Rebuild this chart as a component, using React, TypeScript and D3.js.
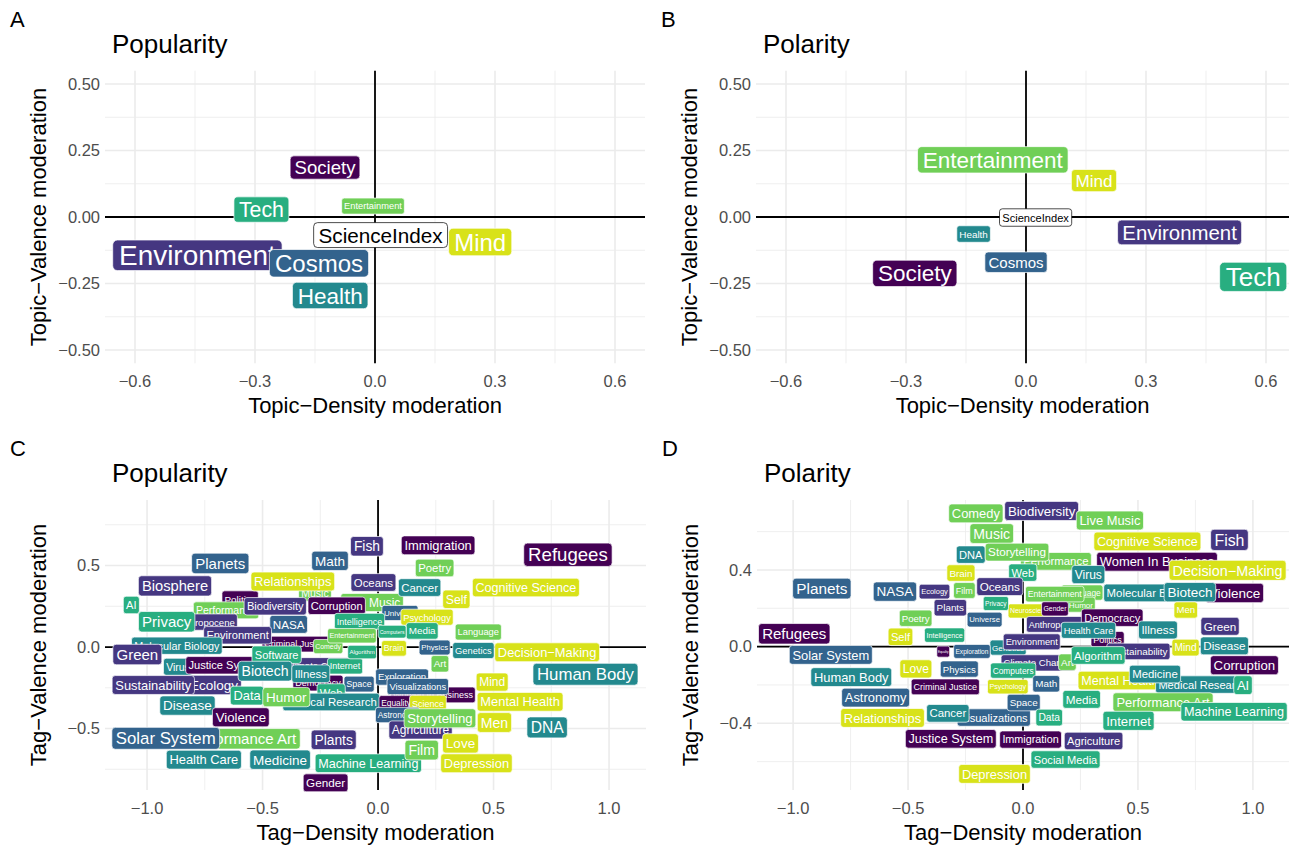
import React from 'react';
import * as d3 from 'd3';

// topics and the tags that belong to each of them
const topics = ['Society', 'Environment', 'Cosmos', 'Health', 'Tech', 'Entertainment', 'Mind'];
const societyTags = ['Politics', 'Gender', 'Refugees', 'Immigration', 'Corruption', 'Violence', 'Justice System', 'Criminal Justice', 'Democracy', 'Women In Business', 'Equality'];
const environmentTags = ['Biosphere', 'Biodiversity', 'Fish', 'Oceans', 'Green', 'Sustainability', 'Ecology', 'Environment', 'Climate Change', 'Plants', 'Agriculture', 'Anthropocene'];
const cosmosTags = ['Planets', 'Solar System', 'Astronomy', 'NASA', 'Universe', 'Space', 'Exploration', 'Physics', 'Math', 'Visualizations'];
const healthTags = ['Human Body', 'DNA', 'Medicine', 'Disease', 'Illness', 'Health Care', 'Medical Research', 'Molecular Biology', 'Virus', 'Biotech', 'Genetics', 'Cancer'];
const techTags = ['AI', 'Machine Learning', 'Algorithm', 'Internet', 'Social Media', 'Software', 'Data', 'Web', 'Computers', 'Privacy', 'Intelligence', 'Media'];
const entertainmentTags = ['Comedy', 'Music', 'Live Music', 'Storytelling', 'Film', 'Poetry', 'Performance', 'Performance Art', 'Humor', 'Art', 'Language', 'Entertainment'];
const mindTags = ['Cognitive Science', 'Decision−Making', 'Self', 'Love', 'Relationships', 'Depression', 'Mental Health', 'Men', 'Mind', 'Psychology', 'Brain', 'Neuroscience', 'Science'];

// [label, x, y, magnitude]
type Row = [string, number, number, number];

const popularityTopics: Row[] = [
  ['Society', -0.125, 0.186, 0.62],
  ['Tech', -0.284, 0.028, 0.71],
  ['Entertainment', -0.005, 0.041, 0.31],
  ['ScienceIndex', 0.014, -0.068, 0.69],
  ['Mind', 0.263, -0.094, 0.8],
  ['Environment', -0.444, -0.144, 0.93],
  ['Cosmos', -0.14, -0.174, 0.8],
  ['Health', -0.112, -0.295, 0.75],
];

const polarityTopics: Row[] = [
  ['Entertainment', -0.083, 0.215, 0.75],
  ['Mind', 0.17, 0.137, 0.57],
  ['ScienceIndex', 0.024, -0.002, 0.37],
  ['Health', -0.131, -0.064, 0.33],
  ['Environment', 0.384, -0.058, 0.68],
  ['Cosmos', -0.025, -0.17, 0.5],
  ['Society', -0.278, -0.212, 0.75],
  ['Tech', 0.568, -0.225, 0.87],
];

const popularityTags: Row[] = [
  ['Politics', -0.597, 0.294, 0.33],
  ['Music', -0.273, 0.331, 0.35],
  ['Performance', -0.658, 0.225, 0.35],
  ['Anthropocene', -0.749, 0.153, 0.32],
  ['Criminal Justice', -0.355, 0.018, 0.3],
  ['Virus', -0.866, -0.121, 0.35],
  ['Justice System', -0.659, -0.112, 0.37],
  ['Ecology', -0.71, -0.233, 0.45],
  ['Data', -0.567, -0.298, 0.43],
  ['Performance Art', -0.589, -0.563, 0.5],
  ['Live Music', -0.026, 0.273, 0.4],
  ['Universe', 0.095, 0.209, 0.27],
  ['Comedy', -0.216, 0.003, 0.23],
  ['Climate Change', -0.251, -0.115, 0.32],
  ['Internet', -0.143, -0.117, 0.3],
  ['Democracy', -0.26, -0.221, 0.3],
  ['Space', -0.082, -0.227, 0.3],
  ['Web', -0.203, -0.279, 0.37],
  ['Medical Research', -0.203, -0.337, 0.38],
  ['Exploration', 0.104, -0.184, 0.32],
  ['Women In Business', 0.238, -0.294, 0.3],
  ['Equality', 0.078, -0.345, 0.28],
  ['Science', 0.216, -0.345, 0.3],
  ['Astronomy', 0.085, -0.417, 0.28],
  ['Agriculture', 0.184, -0.509, 0.4],
  ['Algorithm', -0.069, -0.031, 0.2],
  ['Planets', -0.683, 0.513, 0.5],
  ['Math', -0.208, 0.529, 0.45],
  ['Fish', -0.048, 0.618, 0.46],
  ['Biosphere', -0.879, 0.375, 0.49],
  ['Relationships', -0.369, 0.402, 0.43],
  ['AI', -1.068, 0.258, 0.37],
  ['Biodiversity', -0.445, 0.25, 0.37],
  ['Corruption', -0.179, 0.253, 0.37],
  ['Privacy', -0.915, 0.155, 0.5],
  ['NASA', -0.387, 0.139, 0.39],
  ['Environment', -0.608, 0.072, 0.37],
  ['Molecular Biology', -0.871, 0.008, 0.36],
  ['Green', -1.042, -0.046, 0.5],
  ['Software', -0.439, -0.047, 0.37],
  ['Biotech', -0.489, -0.148, 0.47],
  ['Illness', -0.291, -0.164, 0.38],
  ['Sustainability', -0.973, -0.233, 0.43],
  ['Humor', -0.397, -0.307, 0.45],
  ['Disease', -0.825, -0.359, 0.45],
  ['Violence', -0.594, -0.431, 0.44],
  ['Solar System', -0.919, -0.56, 0.56],
  ['Plants', -0.192, -0.569, 0.46],
  ['Health Care', -0.754, -0.691, 0.43],
  ['Medicine', -0.424, -0.691, 0.45],
  ['Machine Learning', -0.042, -0.713, 0.42],
  ['Gender', -0.227, -0.833, 0.39],
  ['Brain', 0.069, -0.008, 0.29],
  ['Physics', 0.245, -0.003, 0.26],
  ['Genetics', 0.413, -0.021, 0.31],
  ['Decision−Making', 0.732, -0.032, 0.43],
  ['Art', 0.268, -0.103, 0.33],
  ['Human Body', 0.898, -0.167, 0.56],
  ['Mind', 0.494, -0.215, 0.4],
  ['Visualizations', 0.172, -0.242, 0.31],
  ['Mental Health', 0.615, -0.336, 0.43],
  ['Storytelling', 0.268, -0.437, 0.44],
  ['Men', 0.504, -0.463, 0.47],
  ['DNA', 0.732, -0.493, 0.52],
  ['Love', 0.357, -0.591, 0.45],
  ['Film', 0.189, -0.632, 0.47],
  ['Depression', 0.426, -0.713, 0.43],
  ['Immigration', 0.26, 0.624, 0.43],
  ['Refugees', 0.822, 0.566, 0.62],
  ['Poetry', 0.245, 0.485, 0.38],
  ['Oceans', -0.02, 0.396, 0.38],
  ['Cancer', 0.18, 0.365, 0.38],
  ['Cognitive Science', 0.64, 0.365, 0.42],
  ['Self', 0.339, 0.293, 0.41],
  ['Psychology', 0.212, 0.183, 0.31],
  ['Intelligence', -0.08, 0.158, 0.3],
  ['Language', 0.434, 0.092, 0.31],
  ['Media', 0.191, 0.099, 0.33],
  ['Computers', 0.061, 0.094, 0.17],
  ['Entertainment', -0.113, 0.069, 0.24],
];

const polarityTags: Row[] = [
  ['Performance', 0.143, 0.445, 0.38],
  ['Women In Business', 0.583, 0.443, 0.43],
  ['Language', 0.257, 0.282, 0.28],
  ['Molecular Biology', 0.559, 0.28, 0.38],
  ['Violence', 0.92, 0.28, 0.45],
  ['Neuroscience', 0.035, 0.186, 0.23],
  ['Humor', 0.252, 0.219, 0.27],
  ['Anthropocene', 0.147, 0.116, 0.3],
  ['Politics', 0.368, 0.038, 0.3],
  ['Sustainability', 0.502, -0.025, 0.33],
  ['Genetics', -0.065, -0.005, 0.27],
  ['Climate Change', 0.065, -0.085, 0.32],
  ['Computers', -0.043, -0.125, 0.28],
  ['Mental Health', 0.422, -0.177, 0.42],
  ['Medical Research', 0.782, -0.198, 0.37],
  ['Visualizations', -0.127, -0.37, 0.37],
  ['Performance Art', 0.609, -0.29, 0.43],
  ['Comedy', -0.205, 0.695, 0.43],
  ['Biodiversity', 0.081, 0.708, 0.44],
  ['Music', -0.136, 0.59, 0.47],
  ['Live Music', 0.378, 0.658, 0.43],
  ['DNA', -0.227, 0.48, 0.37],
  ['Storytelling', -0.026, 0.493, 0.39],
  ['Cognitive Science', 0.541, 0.549, 0.42],
  ['Fish', 0.898, 0.557, 0.53],
  ['Decision−Making', 0.89, 0.398, 0.48],
  ['Brain', -0.27, 0.384, 0.33],
  ['Web', -0.001, 0.386, 0.37],
  ['Virus', 0.284, 0.376, 0.4],
  ['Planets', -0.875, 0.303, 0.51],
  ['NASA', -0.557, 0.287, 0.45],
  ['Ecology', -0.385, 0.287, 0.25],
  ['Film', -0.255, 0.293, 0.3],
  ['Oceans', -0.101, 0.313, 0.39],
  ['Entertainment', 0.138, 0.274, 0.29],
  ['Biotech', 0.726, 0.284, 0.45],
  ['Privacy', -0.118, 0.225, 0.22],
  ['Plants', -0.316, 0.203, 0.33],
  ['Gender', 0.139, 0.197, 0.23],
  ['Men', 0.708, 0.191, 0.32],
  ['Poetry', -0.467, 0.148, 0.32],
  ['Universe', -0.167, 0.141, 0.26],
  ['Democracy', 0.388, 0.151, 0.37],
  ['Health Care', 0.285, 0.085, 0.31],
  ['Illness', 0.587, 0.087, 0.39],
  ['Green', 0.857, 0.106, 0.39],
  ['Self', -0.533, 0.051, 0.37],
  ['Intelligence', -0.341, 0.06, 0.24],
  ['Environment', 0.038, 0.025, 0.31],
  ['Mind', 0.707, -0.005, 0.34],
  ['Disease', 0.876, 0.004, 0.39],
  ['Exploration', -0.222, -0.025, 0.22],
  ['Equality', -0.347, -0.026, 0.1],
  ['Art', 0.193, -0.081, 0.33],
  ['Algorithm', 0.327, -0.046, 0.38],
  ['Corruption', 0.963, -0.097, 0.44],
  ['Physics', -0.277, -0.117, 0.32],
  ['Love', -0.466, -0.116, 0.4],
  ['Solar System', -0.836, -0.043, 0.43],
  ['Refugees', -0.995, 0.067, 0.5],
  ['Human Body', -0.747, -0.159, 0.43],
  ['Criminal Justice', -0.338, -0.21, 0.3],
  ['Psychology', -0.066, -0.209, 0.24],
  ['Math', 0.101, -0.194, 0.33],
  ['Medicine', 0.574, -0.143, 0.38],
  ['AI', 0.957, -0.201, 0.43],
  ['Astronomy', -0.641, -0.266, 0.43],
  ['Media', 0.255, -0.275, 0.39],
  ['Space', 0.003, -0.292, 0.33],
  ['Machine Learning', 0.918, -0.34, 0.42],
  ['Relationships', -0.611, -0.372, 0.43],
  ['Cancer', -0.327, -0.348, 0.38],
  ['Data', 0.114, -0.37, 0.34],
  ['Internet', 0.459, -0.387, 0.44],
  ['Justice System', -0.314, -0.481, 0.42],
  ['Immigration', 0.033, -0.485, 0.36],
  ['Agriculture', 0.307, -0.492, 0.37],
  ['Social Media', 0.185, -0.589, 0.37],
  ['Depression', -0.124, -0.664, 0.43],
];

const topicTicks = [-0.6, -0.3, 0, 0.3, 0.6];
const topicYTicks = [-0.5, -0.25, 0, 0.25, 0.5];
const tagTicks = [-1, -0.5, 0, 0.5, 1];
const popTagYTicks = [-0.5, 0, 0.5];
const polTagYTicks = [-0.4, 0, 0.4];

const FONT = '"Liberation Sans", Arial, Helvetica, sans-serif';

const topicOf = new Map<string, string>();
[societyTags, environmentTags, cosmosTags, healthTags, techTags, entertainmentTags, mindTags]
  .forEach((tags, i) => tags.forEach(t => topicOf.set(t, topics[i])));

const colour = d3.scaleOrdinal<string, string>()
  .domain(topics)
  .range(topics.map((_, i) => d3.interpolateViridis((i / 6) * 0.94)));

const fontScale = d3.scaleLinear().domain([0, 1]).range([0, 30]);

const ctx = document.createElement('canvas').getContext('2d')!;
const textWidth = (s: string, f: number) => {
  ctx.font = `${f}px "Liberation Sans"`;
  return ctx.measureText(s).width;
};

const minorTicks = (t: number[], domain: number[]) => {
  const step = t[1] - t[0];
  const out: number[] = [];
  for (let v = t[0] - step * 2 + step / 2; v < domain[1]; v += step) {
    if (v > domain[0]) out.push(v);
  }
  return out;
};

const Panel = (props) => {
  const {
    tag, title, xTitle, yTitle, left, right, top, bottom,
    xDomain, yDomain, xTicks, yTicks, xFmt, yFmt, rows, asTopics,
  } = props;
  const x = d3.scaleLinear().domain(xDomain).range([left, right]);
  const y = d3.scaleLinear().domain(yDomain).range([bottom, top]);
  const fx = d3.format(xFmt);
  const fy = d3.format(yFmt);
  const grid = '#EBEBEB';
  return (
    <g>
      <text x={left - 95} y={top - 44} fontSize={22}>{tag}</text>
      <text x={left + 7} y={top - 18} fontSize={26}>{title}</text>
      {minorTicks(xTicks, xDomain).map(v => (
        <line key={'mx' + v} x1={x(v)} x2={x(v)} y1={top} y2={bottom} stroke={grid} strokeWidth={0.8} />
      ))}
      {minorTicks(yTicks, yDomain).map(v => (
        <line key={'my' + v} x1={left} x2={right} y1={y(v)} y2={y(v)} stroke={grid} strokeWidth={0.8} />
      ))}
      {xTicks.map(v => (
        <line key={'x' + v} x1={x(v)} x2={x(v)} y1={top} y2={bottom} stroke={grid} strokeWidth={1.6} />
      ))}
      {yTicks.map(v => (
        <line key={'y' + v} x1={left} x2={right} y1={y(v)} y2={y(v)} stroke={grid} strokeWidth={1.6} />
      ))}
      <line x1={left} x2={right} y1={y(0)} y2={y(0)} stroke="#000" strokeWidth={1.8} />
      <line x1={x(0)} x2={x(0)} y1={top} y2={bottom} stroke="#000" strokeWidth={1.8} />
      {xTicks.map(v => (
        <text key={'tx' + v} x={x(v)} y={bottom + 24} textAnchor="middle" fontSize={16.5} fill="#4D4D4D">{fx(v)}</text>
      ))}
      {yTicks.map(v => (
        <text key={'ty' + v} x={left - 5} y={y(v) + 5.8} textAnchor="end" fontSize={16.5} fill="#4D4D4D">{fy(v)}</text>
      ))}
      <text x={(left + Math.min(right, 1289)) / 2} y={bottom + 50} textAnchor="middle" fontSize={22}>{xTitle}</text>
      <text transform={`translate(${left - 59},${(top + bottom) / 2}) rotate(-90)`} textAnchor="middle" fontSize={22}>{yTitle}</text>
      {rows.map(([label, vx, vy, m], i) => {
        const f = fontScale(m);
        const w = textWidth(label, f) + 2 * (0.215 * f + 0.4);
        const h = 0.78 * f + 8.8;
        const special = label === 'ScienceIndex';
        const fill = special ? '#FFFFFF' : colour(asTopics ? label : topicOf.get(label));
        const ink = special ? '#000000' : '#FFFFFF';
        return (
          <g key={i}>
            <rect
              x={x(vx) - w / 2}
              y={y(vy) - h / 2}
              width={w}
              height={h}
              rx={0.12 * f + 1.5}
              fill={fill}
              stroke={ink}
              strokeWidth={0.7}
            />
            <text x={x(vx)} y={y(vy) + 0.36 * f} textAnchor="middle" fontSize={f} fill={ink}>{label}</text>
          </g>
        );
      })}
    </g>
  );
};

const App = () => (
  <svg width={1289} height={849} style={{ position: 'absolute', left: 0, top: 0, background: '#fff' }} fontFamily={FONT}>
    <rect width={1289} height={849} fill="#fff" />
    <Panel
      tag="A" title="Popularity" xTitle="Topic−Density moderation" yTitle="Topic−Valence moderation"
      left={105} right={645} top={70.7} bottom={363.3}
      xDomain={[-0.675, 0.675]} yDomain={[-0.55, 0.55]}
      xTicks={topicTicks} yTicks={topicYTicks} xFmt=".1f" yFmt=".2f"
      rows={popularityTopics} asTopics
    />
    <Panel
      tag="B" title="Polarity" xTitle="Topic−Density moderation" yTitle="Topic−Valence moderation"
      left={756} right={1296} top={70.7} bottom={363.3}
      xDomain={[-0.675, 0.675]} yDomain={[-0.55, 0.55]}
      xTicks={topicTicks} yTicks={topicYTicks} xFmt=".1f" yFmt=".2f"
      rows={polarityTopics} asTopics
    />
    <Panel
      tag="C" title="Popularity" xTitle="Tag−Density moderation" yTitle="Tag−Valence moderation"
      left={105} right={646} top={500} bottom={790}
      xDomain={[-1.182, 1.16]} yDomain={[-0.877, 0.902]}
      xTicks={tagTicks} yTicks={popTagYTicks} xFmt=".1f" yFmt=".1f"
      rows={popularityTags}
    />
    <Panel
      tag="D" title="Polarity" xTitle="Tag−Density moderation" yTitle="Tag−Valence moderation"
      left={757} right={1289} top={500} bottom={790}
      xDomain={[-1.157, 1.157]} yDomain={[-0.748, 0.765]}
      xTicks={tagTicks} yTicks={polTagYTicks} xFmt=".1f" yFmt=".1f"
      rows={polarityTags}
    />
  </svg>
);

export default App;
